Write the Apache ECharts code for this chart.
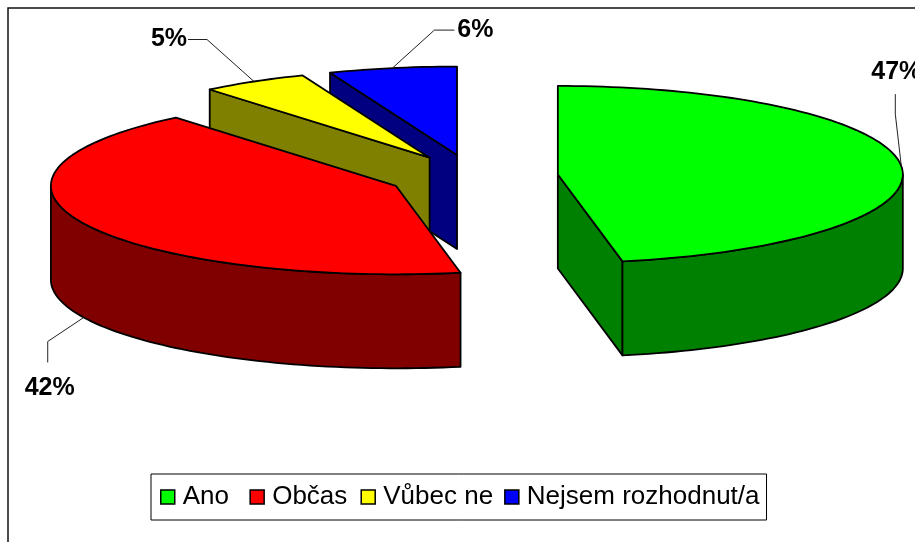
<!DOCTYPE html>
<html><head><meta charset="utf-8">
<style>html,body{margin:0;padding:0;background:#fff}#c{width:915px;height:542px}</style>
<script src="https://cdn.jsdelivr.net/npm/echarts@6/dist/echarts.min.js"></script>
</head><body><div id="c"></div>
<script>
const categories = ['Ano', 'Občas', 'Vůbec ne', 'Nejsem rozhodnut/a'];
const values = [47, 42, 5, 6];
const topColors = ['#00ff00', '#ff0000', '#ffff00', '#0000ff'];
const sideColors = ['#008000', '#800000', '#808000', '#000080'];
// pie projection
const pie = { cx: 473, cy: 176.5, rx: 345, ry: 88.5, depth: 94, explode: 0.247 };
// leader bends and label centre, relative to the rim point
const leaders = [
  { bends: [[-6, -52], [-6, -72]], label: [-5, -94], front: false },
  { bends: [[-36, 24], [-36, 45]], label: [-34, 71], front: true },
  { bends: [[-47, -42], [-66, -42]], label: [-85, -42], front: false },
  { bends: [[42, -38], [62, -38]], label: [83, -38], front: false }
];
const legendTrail = ['\u00a0\u200a', '\u200a', '', ''];
const paintOrder = [3, 2, 1, 0];
const total = values.reduce((a, b) => a + b, 0);
const RAD = Math.PI / 180;

function sliceAngles(i) {
  let s = 0;
  for (let k = 0; k < i; k++) s += values[k];
  return [s / total * 360, (s + values[i]) / total * 360];
}
function renderSlice(i, api) {
  const v = api.value(0);
  const [a, b] = sliceAngles(i);
  const mid = (a + b) / 2;
  const cx = pie.cx + pie.explode * pie.rx * Math.sin(mid * RAD);
  const cy = pie.cy - pie.explode * pie.ry * Math.cos(mid * RAD);
  const rim = d => [cx + pie.rx * Math.sin(d * RAD), cy - pie.ry * Math.cos(d * RAD)];
  const down = p => [p[0], p[1] + pie.depth];
  const arc = (p, q) => {
    const pts = [];
    const n = Math.max(2, Math.ceil((q - p) / 1.5));
    for (let k = 0; k <= n; k++) pts.push(rim(p + (q - p) * k / n));
    return pts;
  };
  const face = (points, fill) => ({
    type: 'polygon', shape: { points },
    style: { fill, stroke: '#000', lineWidth: 1.8, lineJoin: 'round' }
  });
  const kids = [];
  const side = sideColors[i];
  const c = [cx, cy];
  if (Math.sin(a * RAD) < -1e-6) kids.push(face([c, rim(a), down(rim(a)), down(c)], side));
  if (Math.sin(b * RAD) > 1e-6) kids.push(face([c, rim(b), down(rim(b)), down(c)], side));
  const p = Math.max(a, 90), q = Math.min(b, 270);
  if (q > p) {
    const top = arc(p, q);
    kids.push(face(top.concat(top.slice().reverse().map(down)), side));
  }
  kids.push(face([c].concat(arc(a, b)), topColors[i]));
  const L = leaders[i];
  const anchor = L.front ? down(rim(mid)) : rim(mid);
  const line = [anchor].concat(L.bends.map(o => [anchor[0] + o[0], anchor[1] + o[1]]));
  kids.push({ type: 'polyline', shape: { points: line }, style: { fill: 'none', stroke: '#222', lineWidth: 1 } });
  kids.push({
    type: 'text',
    style: {
      text: v + '%', x: anchor[0] + L.label[0], y: anchor[1] + L.label[1],
      fill: '#000', font: 'bold 25px "Liberation Sans", Arial, sans-serif',
      align: 'center', verticalAlign: 'middle'
    }
  });
  return { type: 'group', children: kids };
}

const chart = echarts.init(document.getElementById('c'), null, { renderer: 'canvas' });
chart.setOption({
  animation: false,
  backgroundColor: '#fff',
  legend: {
    left: 151, top: 474, orient: 'horizontal',
    padding: [10, 7, 10, 9],
    itemGap: 11, itemWidth: 14, itemHeight: 14, icon: 'rect',
    borderColor: '#000', borderWidth: 1, backgroundColor: '#fff',
    textStyle: { fontFamily: '"Liberation Sans", Arial, sans-serif', fontSize: 26, color: '#000', padding: [0, 0, 0, 3] },
    formatter: name => name + legendTrail[categories.indexOf(name)],
    selectedMode: false,
    data: categories.map((name, i) => ({
      name,
      itemStyle: { color: topColors[i], borderColor: '#000', borderWidth: 1.5 }
    }))
  },
  graphic: [{
    type: 'polyline', silent: true, z: -1,
    shape: { points: [[8, 542], [8, 8], [915, 8]] },
    style: { fill: 'none', stroke: '#111', lineWidth: 1.5 }
  }],
  series: paintOrder.map((i, order) => ({
    type: 'custom', name: categories[i], coordinateSystem: 'none', z: 2 + order,
    itemStyle: { color: topColors[i] },
    data: [[values[i]]],
    renderItem: (params, api) => renderSlice(i, api)
  }))
});
</script></body></html>
